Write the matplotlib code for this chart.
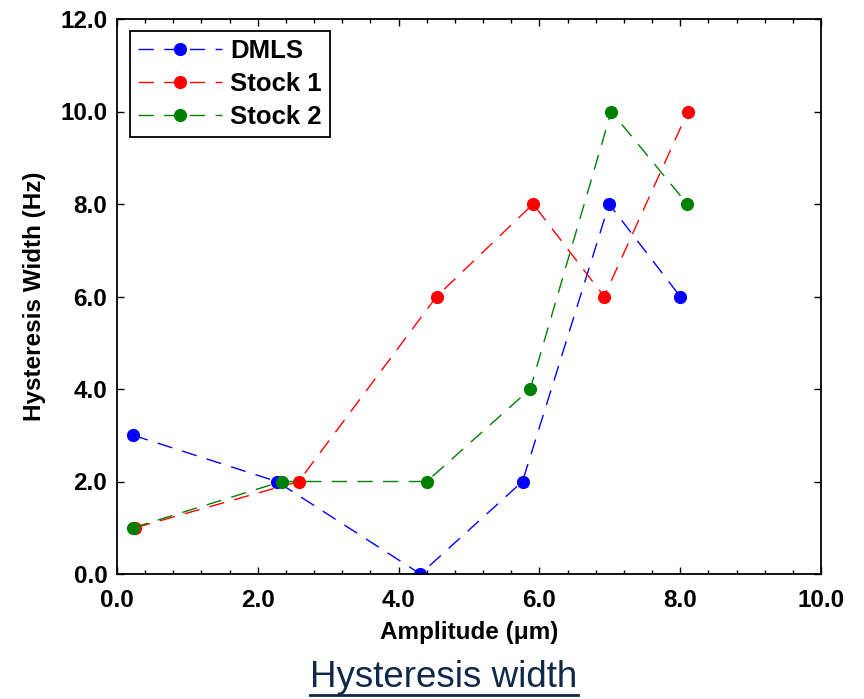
import matplotlib
matplotlib.use("Agg")
import matplotlib.pyplot as plt
from matplotlib.ticker import MultipleLocator, FormatStrFormatter
from matplotlib.lines import Line2D

plt.rcParams['font.family'] = ['Liberation Sans', 'DejaVu Sans']

# Data
dmls_x = [0.23, 2.27, 4.31, 5.76, 6.99, 8.00]
dmls_y = [3, 2, 0, 2, 8, 6]
stock1_x = [0.26, 2.58, 4.54, 5.91, 6.92, 8.11]
stock1_y = [1, 2, 6, 8, 6, 10]
stock2_x = [0.23, 2.34, 4.40, 5.87, 7.02, 8.10]
stock2_y = [1, 2, 2, 4, 10, 8]
series_labels = ["DMLS", "Stock 1", "Stock 2"]
series_colors = ["#0000ff", "#ff0000", "#008000"]
title_text = "Hysteresis width"
xlabel_text = "Amplitude (\u03bcm)"
ylabel_text = "Hysteresis Width (Hz)"

fig = plt.figure(figsize=(8.64, 6.99), dpi=100)
ax = fig.add_axes([117/864, 1-574/699, (821-117)/864, (574-19)/699])

for xs, ys, lab, col in zip([dmls_x, stock1_x, stock2_x],
                            [dmls_y, stock1_y, stock2_y],
                            series_labels, series_colors):
    ax.plot(xs, ys, color=col, lw=1.0, dashes=[11, 7.5], marker='o',
            markersize=9.5, markeredgewidth=0, markerfacecolor=col, label=lab)

ax.set_xlim(0, 10)
ax.set_ylim(0, 12)
ax.xaxis.set_major_locator(MultipleLocator(2))
ax.xaxis.set_minor_locator(MultipleLocator(0.4))
ax.yaxis.set_major_locator(MultipleLocator(2))
ax.xaxis.set_major_formatter(FormatStrFormatter('%.1f'))
ax.yaxis.set_major_formatter(FormatStrFormatter('%.1f'))
ax.tick_params(which='both', direction='in', top=True, right=True, width=1.0)
ax.tick_params(which='major', length=5, labelsize=17.5)
ax.tick_params(axis='x', which='major', pad=11)
ax.tick_params(axis='y', which='major', pad=7)
ax.tick_params(which='minor', length=3)
for lbl in ax.get_xticklabels() + ax.get_yticklabels():
    lbl.set_fontweight('bold')
for sp in ax.spines.values():
    sp.set_linewidth(1.3)

ax.set_xlabel(xlabel_text, fontsize=17.5, fontweight='bold', labelpad=6)
ax.set_ylabel(ylabel_text, fontsize=17.5, fontweight='bold', labelpad=10)

leg = ax.legend(loc='upper left', bbox_to_anchor=(13/704, (574-31)/555),
                prop={'weight': 'bold', 'size': 18.5}, handlelength=3.3,
                fancybox=False, edgecolor='black', framealpha=1,
                borderaxespad=0, borderpad=0.3, labelspacing=0.36,
                handletextpad=0.3)
leg.get_frame().set_linewidth(1.3)

t = fig.text(444/864, 1-687/699, title_text, fontsize=26.5, color='#10284a',
             ha='center', va='baseline')
fig.canvas.draw()
bb = t.get_window_extent(renderer=fig.canvas.get_renderer())
uy = 699 - 695
fig.add_artist(Line2D([bb.x0/864, bb.x1/864], [uy/699, uy/699],
                      transform=fig.transFigure, color='#10284a', lw=2))

fig.savefig("out.png", dpi=100)
